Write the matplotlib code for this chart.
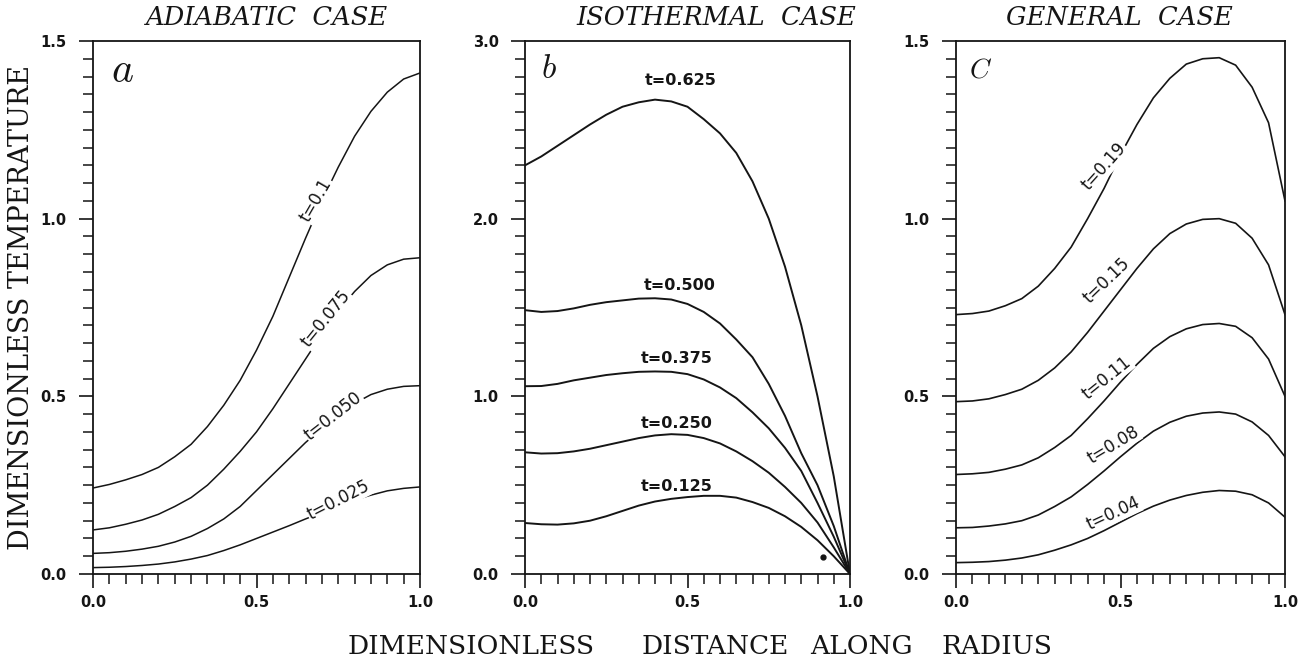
import matplotlib
matplotlib.use("Agg")
import matplotlib.pyplot as plt
from matplotlib.ticker import MultipleLocator

plt.rcParams['mathtext.fontset'] = 'cm'

# ---------------- data ----------------
radius = [0.00, 0.05, 0.10, 0.15, 0.20, 0.25, 0.30, 0.35, 0.40, 0.45, 0.50,
          0.55, 0.60, 0.65, 0.70, 0.75, 0.80, 0.85, 0.90, 0.95, 1.00]

# (a) adiabatic case
adiab_t0100 = [0.242, 0.252, 0.265, 0.280, 0.300, 0.330, 0.365, 0.415, 0.475, 0.545, 0.630,
               0.725, 0.835, 0.945, 1.050, 1.145, 1.232, 1.302, 1.356, 1.393, 1.410]
adiab_t0075 = [0.124, 0.130, 0.140, 0.152, 0.168, 0.190, 0.215, 0.250, 0.295, 0.345, 0.400,
               0.465, 0.535, 0.605, 0.675, 0.740, 0.795, 0.840, 0.870, 0.886, 0.890]
adiab_t0050 = [0.058, 0.060, 0.064, 0.070, 0.078, 0.090, 0.106, 0.128, 0.155, 0.190, 0.235,
               0.280, 0.325, 0.370, 0.410, 0.450, 0.480, 0.505, 0.520, 0.528, 0.530]
adiab_t0025 = [0.018, 0.019, 0.021, 0.024, 0.028, 0.034, 0.042, 0.052, 0.066, 0.082, 0.100,
               0.118, 0.136, 0.155, 0.173, 0.192, 0.208, 0.222, 0.234, 0.241, 0.245]

# (b) isothermal case
iso_t0625 = [2.300, 2.350, 2.410, 2.470, 2.530, 2.585, 2.630, 2.655, 2.670, 2.660, 2.630,
             2.560, 2.480, 2.370, 2.210, 2.000, 1.730, 1.400, 1.000, 0.550, 0.000]
iso_t0500 = [1.485, 1.475, 1.480, 1.495, 1.515, 1.530, 1.540, 1.550, 1.552, 1.545, 1.520,
             1.475, 1.410, 1.320, 1.220, 1.070, 0.890, 0.680, 0.500, 0.270, 0.000]
iso_t0375 = [1.057, 1.058, 1.070, 1.090, 1.105, 1.120, 1.130, 1.138, 1.140, 1.138, 1.125,
             1.095, 1.050, 0.990, 0.910, 0.820, 0.710, 0.580, 0.400, 0.210, 0.000]
iso_t0250 = [0.685, 0.678, 0.680, 0.690, 0.705, 0.725, 0.745, 0.765, 0.780, 0.787, 0.783,
             0.765, 0.735, 0.690, 0.635, 0.570, 0.490, 0.400, 0.290, 0.150, 0.000]
iso_t0125 = [0.287, 0.280, 0.278, 0.285, 0.300, 0.325, 0.355, 0.385, 0.408, 0.423, 0.433,
             0.440, 0.440, 0.430, 0.405, 0.372, 0.325, 0.265, 0.190, 0.100, 0.000]
iso_dot = (0.918, 0.098)

# (c) general case
gen_t019 = [0.730, 0.733, 0.740, 0.755, 0.775, 0.810, 0.860, 0.920, 1.000, 1.085, 1.180,
            1.265, 1.340, 1.395, 1.435, 1.450, 1.453, 1.432, 1.370, 1.270, 1.050]
gen_t015 = [0.485, 0.487, 0.493, 0.505, 0.520, 0.545, 0.580, 0.625, 0.680, 0.740, 0.800,
            0.860, 0.915, 0.958, 0.985, 0.998, 1.000, 0.987, 0.945, 0.870, 0.730]
gen_t011 = [0.280, 0.282, 0.286, 0.295, 0.307, 0.327, 0.356, 0.390, 0.437, 0.487, 0.540,
            0.590, 0.635, 0.668, 0.690, 0.702, 0.705, 0.697, 0.665, 0.605, 0.500]
gen_t008 = [0.130, 0.131, 0.135, 0.141, 0.150, 0.166, 0.190, 0.217, 0.252, 0.290, 0.330,
            0.368, 0.402, 0.427, 0.444, 0.453, 0.456, 0.450, 0.428, 0.390, 0.330]
gen_t004 = [0.032, 0.033, 0.035, 0.039, 0.045, 0.054, 0.067, 0.082, 0.100, 0.122, 0.146,
            0.170, 0.191, 0.208, 0.221, 0.230, 0.235, 0.233, 0.223, 0.200, 0.160]

x_ticklabels = ['0.0', '0.5', '1.0']
titles = ['ADIABATIC  CASE', 'ISOTHERMAL  CASE', 'GENERAL  CASE']
panel_letters = [r'$a$', r'$b$', r'$C$']
xlabel_words = ['DIMENSIONLESS', 'DISTANCE', 'ALONG', 'RADIUS']

# ---------------- figure ----------------
W, H = 1302, 662
fig = plt.figure(figsize=(W / 100, H / 100), dpi=100)
fig.patch.set_facecolor('white')

def px_axes(left, right, top, bottom):
    return fig.add_axes([left / W, 1 - bottom / H, (right - left) / W, (bottom - top) / H])

axa = px_axes(93, 420, 41, 574)
axb = px_axes(525, 850, 41, 574)
axc = px_axes(956, 1285, 41, 574)

INK = '#151515'
tickfont = dict(family='DejaVu Sans', weight='bold', size=10.5)

def style(ax, ymax, ystep_minor, yticks, ylabels):
    ax.set_xlim(0, 1)
    ax.set_ylim(0, ymax)
    ax.xaxis.set_minor_locator(MultipleLocator(0.05))
    ax.yaxis.set_minor_locator(MultipleLocator(ystep_minor))
    ax.tick_params(which='major', direction='out', length=10, width=1.2, color=INK,
                   top=False, right=False)
    ax.tick_params(which='minor', direction='out', length=7.5, width=1.1, color=INK,
                   top=False, right=False)
    ax.tick_params(axis='x', which='major', pad=5)
    ax.tick_params(axis='y', which='major', pad=9)
    ax.set_xticks([0, 0.5, 1.0])
    ax.set_xticklabels(x_ticklabels, fontdict=tickfont, color=INK)
    ax.set_yticks(yticks)
    ax.set_yticklabels(ylabels, fontdict=tickfont, color=INK)
    for s in ax.spines.values():
        s.set_linewidth(1.3)
        s.set_color(INK)

style(axa, 1.5, 0.05, [0, 0.5, 1.0, 1.5], ['0.0', '0.5', '1.0', '1.5'])
style(axb, 3.0, 0.1, [0, 1.0, 2.0, 3.0], ['0.0', '1.0', '2.0', '3.0'])
style(axc, 1.5, 0.05, [0, 0.5, 1.0, 1.5], ['0.0', '0.5', '1.0', '1.5'])

# ---- curves ----
lab_box = dict(boxstyle='square,pad=0.05', facecolor='white', edgecolor='none')
for ys in [adiab_t0100, adiab_t0075, adiab_t0050, adiab_t0025]:
    axa.plot(radius, ys, color=INK, lw=1.1)
for ys in [iso_t0625, iso_t0500, iso_t0375, iso_t0250, iso_t0125]:
    axb.plot(radius, ys, color=INK, lw=1.4)
axb.plot([iso_dot[0]], [iso_dot[1]], 'o', color=INK, ms=3.5)
for ys in [gen_t019, gen_t015, gen_t011, gen_t008, gen_t004]:
    axc.plot(radius, ys, color=INK, lw=1.2)

labfont_a = dict(family='DejaVu Sans', size=12, color=INK)
for txt, xx, yy, rot in [('t=0.1', 0.682, 1.053, 60), ('t=0.075', 0.713, 0.718, 51),
                         ('t=0.050', 0.735, 0.445, 38), ('t=0.025', 0.752, 0.208, 27)]:
    axa.text(xx, yy, txt, rotation=rot, ha='center', va='center', rotation_mode='anchor',
             bbox=lab_box, zorder=5, **labfont_a)

labfont_b = dict(family='DejaVu Sans', size=11.5, weight='bold', color=INK)
for txt, xx, yy in [('t=0.625', 0.479, 2.78), ('t=0.500', 0.477, 1.625),
                    ('t=0.375', 0.468, 1.213), ('t=0.250', 0.468, 0.847),
                    ('t=0.125', 0.468, 0.49)]:
    axb.text(xx, yy, txt, ha='center', va='center', zorder=5, **labfont_b)

labfont_c = dict(family='DejaVu Sans', size=12, color=INK)
for txt, xx, yy, rot in [('t=0.19', 0.451, 1.147, 48), ('t=0.15', 0.459, 0.825, 44),
                         ('t=0.11', 0.459, 0.552, 39), ('t=0.08', 0.477, 0.363, 31),
                         ('t=0.04', 0.477, 0.170, 25)]:
    axc.text(xx, yy, txt, rotation=rot, ha='center', va='center', rotation_mode='anchor',
             bbox=lab_box, zorder=5, **labfont_c)

# ---- panel letters and titles ----
for ax, letter, (lx, ly), fs in [(axa, panel_letters[0], (0.089, 0.946), 30),
                                 (axb, panel_letters[1], (0.074, 0.949), 24),
                                 (axc, panel_letters[2], (0.076, 0.946), 20)]:
    ax.text(lx, ly, letter, transform=ax.transAxes, ha='center', va='center',
            fontsize=fs, color=INK)

for ax, title, tx in [(axa, titles[0], 0.532), (axb, titles[1], 0.59), (axc, titles[2], 0.496)]:
    ax.text(tx, 1.045, title, transform=ax.transAxes, ha='center', va='center',
            family='DejaVu Serif', style='italic', fontsize=18.5, color=INK)

fig.text(22 / W, 1 - 307 / H, 'DIMENSIONLESS TEMPERATURE', rotation=90,
         ha='center', va='center', family='DejaVu Serif', fontsize=19.5, color=INK)
for word, cx in zip(xlabel_words, [471.5, 715.5, 861, 996.5]):
    fig.text(cx / W, 1 - 646 / H, word, ha='center', va='center',
             family='DejaVu Serif', fontsize=19, color=INK)

fig.savefig('out.png', dpi=100, facecolor='white')
